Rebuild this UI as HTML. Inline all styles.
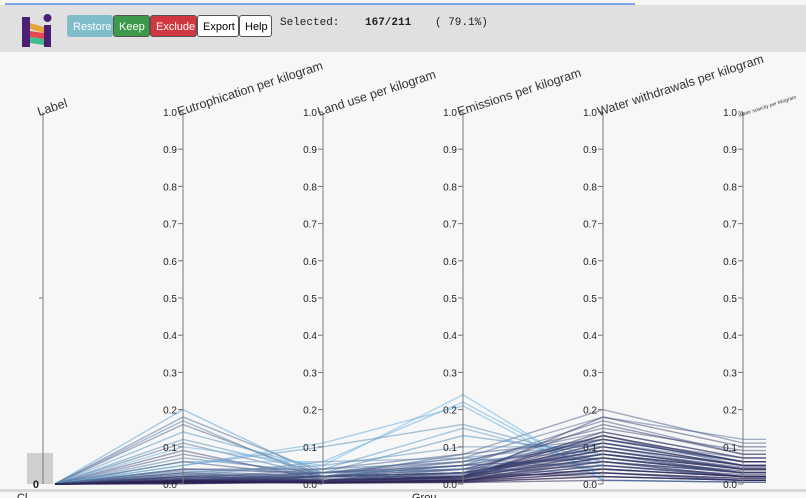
<!DOCTYPE html>
<html><head><meta charset="utf-8"><style>
body{margin:0;width:806px;height:498px;overflow:hidden;background:#f7f7f7;font-family:"Liberation Sans",sans-serif}
#hdr{position:absolute;left:0;top:5px;width:806px;height:47px;background:#e0e0e0}
#topline{position:absolute;left:5px;top:3px;width:630px;height:2px;background:#7aa7e8}
.btn{position:absolute;top:10px;height:22px;line-height:22px;font-size:11px;padding:0 5px;border-radius:3px;border:1px solid #555;box-sizing:border-box}
.mono{position:absolute;top:12px;font-family:"Liberation Mono",monospace;font-size:11px;color:#222}
svg{position:absolute;left:0;top:0}
</style></head><body>
<div id="topline"></div>
<div id="hdr">
<svg width="50" height="47" style="left:18px;top:0">
<rect x="4" y="12" width="8" height="30" fill="#4a1f74"/><rect x="26" y="20" width="7" height="22" fill="#4a1f74"/><circle cx="29.5" cy="13" r="4" fill="#4a1f74"/>
<polygon points="12,18 26,22 26,28 12,24" fill="#e8a33a"/><polygon points="12,26 26,28 26,34 12,32" fill="#e7484f"/><polygon points="12,32 26,34 26,40 12,38" fill="#3fbf8f"/>
</svg>
<div class="btn" style="left:67px;width:46px;background:#7fbccc;color:#fff;border-color:#7fbccc">Restore</div>
<div class="btn" style="left:113px;width:37px;background:#3d9a4a;color:#fff">Keep</div>
<div class="btn" style="left:150px;width:47px;background:#d0373f;color:#fff">Exclude</div>
<div class="btn" style="left:197px;width:42px;background:#fff">Export</div>
<div class="btn" style="left:239px;width:33px;background:#fff">Help</div>
<div class="mono" style="left:280px">Selected:</div>
<div class="mono" style="left:365px;font-weight:bold">167/211</div>
<div class="mono" style="left:435px">( 79.1%)</div>
</div>
<svg id="chart" width="806" height="498"></svg>
<script>
const axisNames=["Label","Eutrophication per kilogram","Land use per kilogram","Emissions per kilogram","Water withdrawals per kilogram","Water scarcity per kilogram"];
const tickLabels=["0.0","0.1","0.2","0.3","0.4","0.5","0.6","0.7","0.8","0.9","1.0"];
const tickValues=[0,0.1,0.2,0.3,0.4,0.5,0.6,0.7,0.8,0.9,1.0];
const eutro=[0.20,0.18,0.17,0.16,0.14,0.12,0.11,0.10,0.09,0.08,0.07,0.06,0.06,0.05,0.05,0.04,0.04,0.035,0.03,0.03,0.025,0.02,0.02,0.02,0.015,0.015,0.01,0.01,0.01,0.008,0.006,0.005,0.005,0.004,0.003,0.003,0.002,0.002,0.001,0.001,0.02,0.03,0.01,0.04,0.012,0.018,0.025,0.008,0.006,0.004,0.01,0.008,0.005,0.012,0.006,0.003,0.009,0.004,0.007,0.002,0.015,0.005];
const land=[0.02,0.03,0.01,0.02,0.04,0.03,0.02,0.05,0.01,0.02,0.03,0.06,0.02,0.10,0.11,0.04,0.03,0.02,0.05,0.01,0.02,0.06,0.03,0.01,0.02,0.04,0.01,0.02,0.03,0.01,0.02,0.01,0.03,0.02,0.01,0.02,0.01,0.005,0.01,0.005,0.01,0.02,0.015,0.03,0.01,0.02,0.01,0.005,0.01,0.02,0.005,0.01,0.003,0.008,0.004,0.006,0.002,0.007,0.003,0.005,0.01,0.004];
const emis=[0.05,0.07,0.03,0.08,0.15,0.13,0.06,0.24,0.04,0.05,0.07,0.22,0.03,0.16,0.21,0.08,0.06,0.05,0.10,0.02,0.04,0.07,0.05,0.03,0.04,0.06,0.02,0.03,0.05,0.02,0.03,0.02,0.04,0.03,0.02,0.03,0.02,0.01,0.015,0.01,0.02,0.03,0.025,0.04,0.015,0.02,0.01,0.01,0.02,0.03,0.01,0.015,0.005,0.02,0.008,0.012,0.004,0.018,0.006,0.01,0.022,0.007];
const water=[0.12,0.18,0.10,0.20,0.05,0.08,0.14,0.01,0.13,0.17,0.11,0.02,0.09,0.06,0.01,0.12,0.15,0.07,0.10,0.13,0.08,0.04,0.11,0.16,0.12,0.09,0.14,0.10,0.07,0.13,0.08,0.11,0.06,0.09,0.12,0.05,0.10,0.07,0.08,0.04,0.18,0.06,0.09,0.03,0.11,0.07,0.05,0.06,0.03,0.02,0.04,0.06,0.02,0.08,0.03,0.05,0.01,0.07,0.02,0.04,0.09,0.03];
const scarcity=[0.06,0.12,0.04,0.11,0.02,0.03,0.07,0.005,0.05,0.08,0.06,0.01,0.04,0.03,0.005,0.07,0.09,0.03,0.05,0.06,0.04,0.02,0.05,0.08,0.06,0.04,0.07,0.05,0.03,0.06,0.03,0.05,0.02,0.04,0.06,0.02,0.05,0.03,0.04,0.02,0.10,0.03,0.04,0.01,0.05,0.03,0.02,0.02,0.01,0.01,0.02,0.03,0.01,0.04,0.015,0.025,0.005,0.035,0.01,0.02,0.045,0.015];
const colorRank=[0.9,0.5,0.6,0.4,0.85,0.8,0.5,1.0,0.3,0.4,0.6,0.95,0.3,0.8,0.95,0.4,0.3,0.5,0.7,0.2,0.4,0.7,0.3,0.2,0.3,0.5,0.1,0.2,0.4,0.1,0.3,0.2,0.4,0.2,0.1,0.3,0.1,0.1,0.1,0.05,0.2,0.5,0.3,0.6,0.2,0.3,0.4,0.1,0.2,0.3,0.05,0.1,0.02,0.15,0.05,0.1,0.0,0.12,0.03,0.08,0.2,0.05];
const NS="http://www.w3.org/2000/svg";
const svg=document.getElementById('chart');
const axX=i=>43+i*140;
const yS=v=>484-v*372;
function el(t,a){const e=document.createElementNS(NS,t);for(const k in a)e.setAttribute(k,a[k]);return e;}
function col(r){const c1=[40,25,75],c2=[120,190,230];const m=c1.map((c,i)=>Math.round(c+(c2[i]-c)*r));return `rgb(${m[0]},${m[1]},${m[2]})`;}
const band=el('rect',{x:0,y:489,width:806,height:3,fill:'#d8d8d8'});
svg.appendChild(band);
const br=el('rect',{x:27,y:453,width:26,height:31,fill:'#cfcfcf'});
svg.appendChild(br);
const series=[eutro,land,emis,water,scarcity];
const g=el('g',{});svg.appendChild(g);
for(let i=0;i<eutro.length;i++){
  let pts=[[axX(0)+12,yS(0)]];
  series.forEach((s,k)=>pts.push([axX(k+1),yS(s[i])]));
  pts.push([766,yS(scarcity[i])]);
  const p=el('polyline',{points:pts.map(p=>p.join(',')).join(' '),fill:'none',stroke:col(colorRank[i]),'stroke-width':1.4,'stroke-opacity':colorRank[i]>0.7?0.6:0.5});
  g.appendChild(p);
}
axisNames.forEach((n,i)=>{
  const x=axX(i);
  const ax=el('g',{});svg.appendChild(ax);
  ax.appendChild(el('line',{x1:x,x2:x,y1:112,y2:484,stroke:'#777','stroke-width':1}));
  if(i>0){tickValues.forEach((v,j)=>{
    ax.appendChild(el('line',{x1:x-5,x2:x,y1:yS(v),y2:yS(v),stroke:'#777'}));
    const t=el('text',{x:x-6,y:yS(v)+4,'text-anchor':'end','font-size':10,fill:'#222'});t.textContent=tickLabels[j];
    ax.appendChild(t);
  });}else{
    ax.appendChild(el('line',{x1:x-4,x2:x,y1:298,y2:298,stroke:'#777'}));
    const t=el('text',{x:x-4,y:488,'text-anchor':'end','font-size':11,'font-weight':'bold',fill:'#222'});t.textContent='0';ax.appendChild(t);
  }
  const fs=i==5?5:12.5;
  const ty=i==5?117:116;
  const tt=el('text',{x:x-4,y:ty,'font-size':fs,fill:'#333',transform:`rotate(-18 ${x-4} ${ty})`});
  tt.textContent=n;ax.appendChild(tt);
});
const c1=el('text',{x:17,y:501,'font-size':11,fill:'#222'});c1.textContent='Cl';svg.appendChild(c1);
const c2=el('text',{x:412,y:501,'font-size':11,fill:'#222'});c2.textContent='Grou';svg.appendChild(c2);
</script>
</body></html>
